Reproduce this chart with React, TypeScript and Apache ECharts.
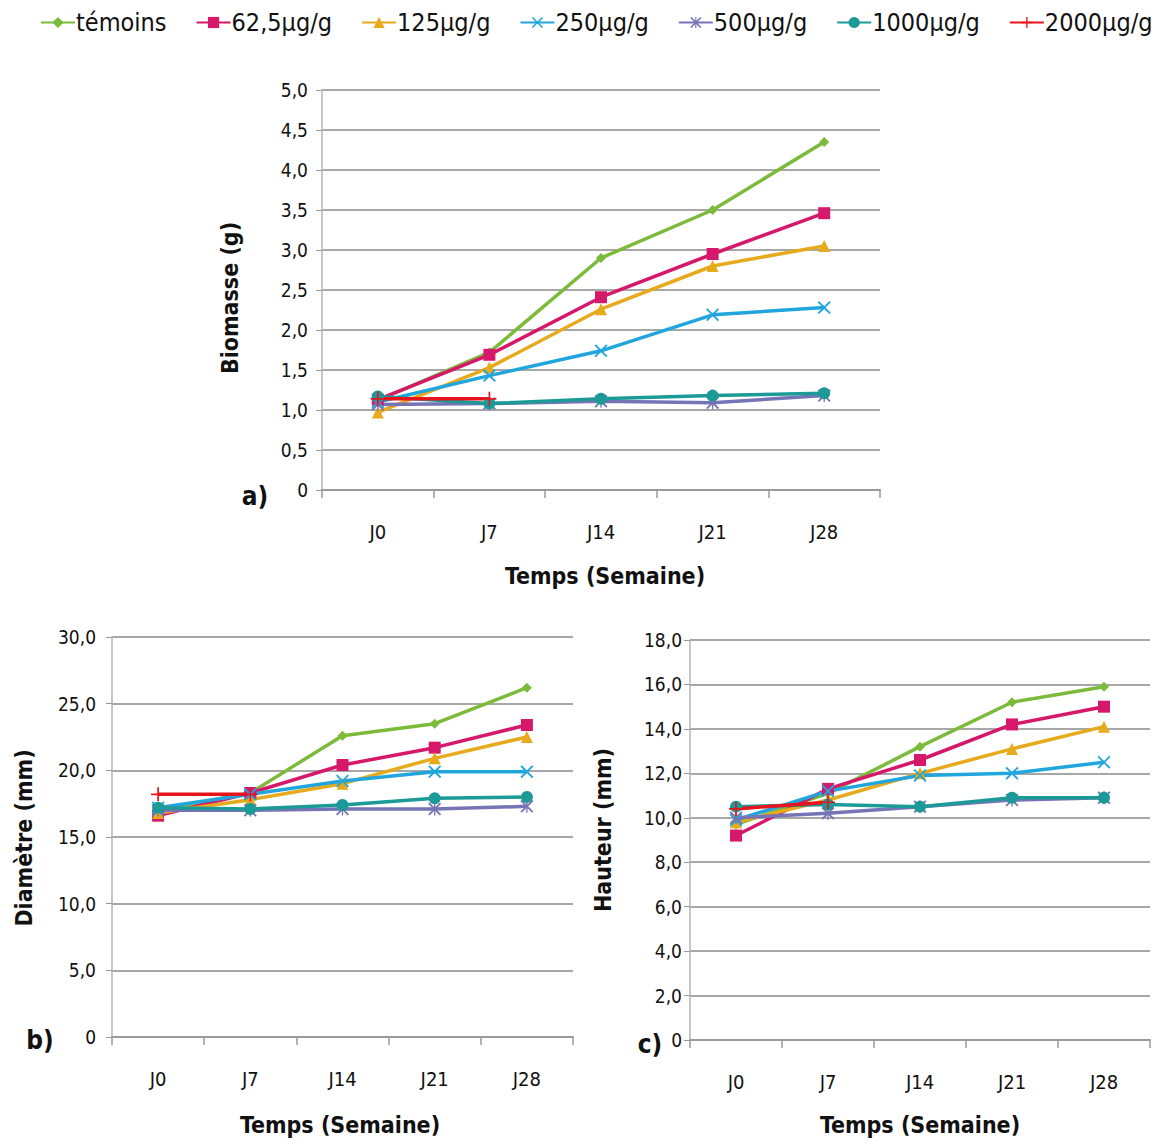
import React, { useEffect, useRef } from "react";
import * as echarts from "echarts";

// Sampling days (x categories)
const weeks = ["J0", "J7", "J14", "J21", "J28"];

// Treatment groups
const groupNames = ["témoins", "62,5µg/g", "125µg/g", "250µg/g", "500µg/g", "1000µg/g", "2000µg/g"];
const groupColors = ["#7cbb3a", "#d6186b", "#e6aa1c", "#20a6dc", "#7674b4", "#1c9a98", "#e8141c"];

// a) Biomasse (g)
const biomasseTemoins = [1.12, 1.72, 2.9, 3.5, 4.35];
const biomasse62 = [1.13, 1.69, 2.41, 2.95, 3.46];
const biomasse125 = [0.97, 1.53, 2.26, 2.8, 3.05];
const biomasse250 = [1.1, 1.43, 1.74, 2.19, 2.28];
const biomasse500 = [1.07, 1.08, 1.11, 1.09, 1.18];
const biomasse1000 = [1.17, 1.08, 1.14, 1.18, 1.21];
const biomasse2000 = [1.14, 1.14];

// b) Diamètre (mm)
const diametreTemoins = [17.0, 18.3, 22.6, 23.5, 26.2];
const diametre62 = [16.6, 18.3, 20.4, 21.7, 23.4];
const diametre125 = [16.8, 17.8, 19.0, 20.9, 22.5];
const diametre250 = [17.2, 18.2, 19.2, 19.9, 19.9];
const diametre500 = [17.0, 17.0, 17.1, 17.1, 17.3];
const diametre1000 = [17.2, 17.1, 17.4, 17.9, 18.0];
const diametre2000 = [18.2, 18.2];

// c) Hauteur (mm)
const hauteurTemoins = [9.7, 11.1, 13.2, 15.2, 15.9];
const hauteur62 = [9.2, 11.3, 12.6, 14.2, 15.0];
const hauteur125 = [9.8, 10.8, 12.0, 13.1, 14.1];
const hauteur250 = [9.9, 11.2, 11.9, 12.0, 12.5];
const hauteur500 = [10.0, 10.2, 10.5, 10.8, 10.9];
const hauteur1000 = [10.5, 10.6, 10.5, 10.9, 10.9];
const hauteur2000 = [10.4, 10.7];

const FONT = "'DejaVu Sans Condensed', 'DejaVu Sans', sans-serif";

const xSymbol = "path://M0,1 L1,0 L5,4 L9,0 L10,1 L6,5 L10,9 L9,10 L5,6 L1,10 L0,9 L4,5 Z";
const starSymbol =
  "path://M0,1 L1,0 L4.5,3.5 L4.5,0 L5.5,0 L5.5,3.5 L9,0 L10,1 L6,5 L10,9 L9,10 L5.5,6.5 L5.5,10 L4.5,10 L4.5,6.5 L1,10 L0,9 L4,5 Z";
const plusSymbol = "path://M4.4,0 L5.6,0 L5.6,4.4 L10,4.4 L10,5.6 L5.6,5.6 L5.6,10 L4.4,10 L4.4,5.6 L0,5.6 L0,4.4 L4.4,4.4 Z";

const groupSymbols = ["diamond", "rect", "triangle", xSymbol, starSymbol, "circle", plusSymbol];
const groupSymbolSizes = [10, 12, 12, 13, 13, 12, 14];

const fmt = (v: number) => (v === 0 ? "0" : v.toFixed(1).replace(".", ","));

export default function App() {
  const ref = useRef<HTMLDivElement>(null);

  useEffect(() => {
    if (!ref.current) return;
    const chart = echarts.init(ref.current, undefined, { renderer: "svg" });

    const panels = [
      { data: [biomasseTemoins, biomasse62, biomasse125, biomasse250, biomasse500, biomasse1000, biomasse2000], max: 5, interval: 0.5 },
      { data: [diametreTemoins, diametre62, diametre125, diametre250, diametre500, diametre1000, diametre2000], max: 30, interval: 5 },
      { data: [hauteurTemoins, hauteur62, hauteur125, hauteur250, hauteur500, hauteur1000, hauteur2000], max: 18, interval: 2 },
    ];

    // The page body has an 8px margin, so positions here are 8px less than on the page
    const grids = [
      { left: 314, top: 82, width: 558, height: 400 },
      { left: 104, top: 629, width: 461, height: 400 },
      { left: 682, top: 632, width: 460, height: 400 },
    ];
    const yLabelMargins = [14, 16, 8];

    const xAxes = grids.map((_, i) => ({
      type: "category",
      gridIndex: i,
      data: weeks,
      boundaryGap: true,
      axisLine: { show: true, lineStyle: { color: "#9a9a9a", width: 2 } },
      axisTick: { show: true, inside: false, length: 8, lineStyle: { color: "#9a9a9a", width: 1.5 } },
      axisLabel: { color: "#111", fontFamily: FONT, fontSize: 20, margin: 32 },
      splitLine: { show: false },
    }));

    const yAxes = panels.map((p, i) => ({
      type: "value",
      gridIndex: i,
      min: 0,
      max: p.max,
      interval: p.interval,
      axisLine: { show: true, lineStyle: { color: "#b4b4b4", width: 1.5 } },
      axisTick: { show: true, length: 6, lineStyle: { color: "#9a9a9a" } },
      axisLabel: { color: "#111", fontFamily: FONT, fontSize: 19, margin: yLabelMargins[i], formatter: fmt },
      splitLine: { show: true, lineStyle: { color: "#8a8a8a", width: 1.5 } },
    }));

    const series: any[] = [];
    panels.forEach((p, pi) => {
      p.data.forEach((vals, gi) => {
        series.push({
          type: "line",
          name: groupNames[gi],
          xAxisIndex: pi,
          yAxisIndex: pi,
          data: vals,
          symbol: groupSymbols[gi],
          symbolSize: groupSymbolSizes[gi],
          showAllSymbol: true,
          lineStyle: { color: groupColors[gi], width: 3.5 },
          itemStyle: { color: groupColors[gi] },
          emphasis: { disabled: true },
        });
      });
    });

    const titleStyle = { fontFamily: FONT, fontSize: 23, fontWeight: "bold", fill: "#111" };
    const graphic: any[] = [
      { type: "text", x: 597, y: 568, style: { ...titleStyle, text: "Temps (Semaine)", align: "center", verticalAlign: "middle" } },
      { type: "text", x: 332, y: 1117, style: { ...titleStyle, text: "Temps (Semaine)", align: "center", verticalAlign: "middle" } },
      { type: "text", x: 912, y: 1117, style: { ...titleStyle, text: "Temps (Semaine)", align: "center", verticalAlign: "middle" } },
      { type: "text", x: 222, y: 290, rotation: Math.PI / 2, style: { ...titleStyle, text: "Biomasse (g)", align: "center", verticalAlign: "middle" } },
      { type: "text", x: 16, y: 830, rotation: Math.PI / 2, style: { ...titleStyle, text: "Diamètre (mm)", align: "center", verticalAlign: "middle" } },
      { type: "text", x: 595, y: 822, rotation: Math.PI / 2, style: { ...titleStyle, text: "Hauteur (mm)", align: "center", verticalAlign: "middle" } },
      { type: "text", x: 247, y: 488, style: { ...titleStyle, fontSize: 26, text: "a)", align: "center", verticalAlign: "middle" } },
      { type: "text", x: 32, y: 1032, style: { ...titleStyle, fontSize: 26, text: "b)", align: "center", verticalAlign: "middle" } },
      { type: "text", x: 642, y: 1036, style: { ...titleStyle, fontSize: 26, text: "c)", align: "center", verticalAlign: "middle" } },
    ];

    chart.setOption({
      animation: false,
      backgroundColor: "#ffffff",
      legend: {
        top: 2,
        left: 32,
        width: 1124,
        padding: 0,
        data: groupNames,
        itemWidth: 34,
        itemHeight: 14,
        itemGap: 29,
        textStyle: { fontFamily: FONT, fontSize: 25, color: "#111", padding: [0, 0, 0, -4] },
      },
      grid: grids,
      xAxis: xAxes,
      yAxis: yAxes,
      series,
      graphic,
    });

    return () => chart.dispose();
  }, []);

  return <div ref={ref} style={{ width: 1156, height: 1139 }} />;
}
